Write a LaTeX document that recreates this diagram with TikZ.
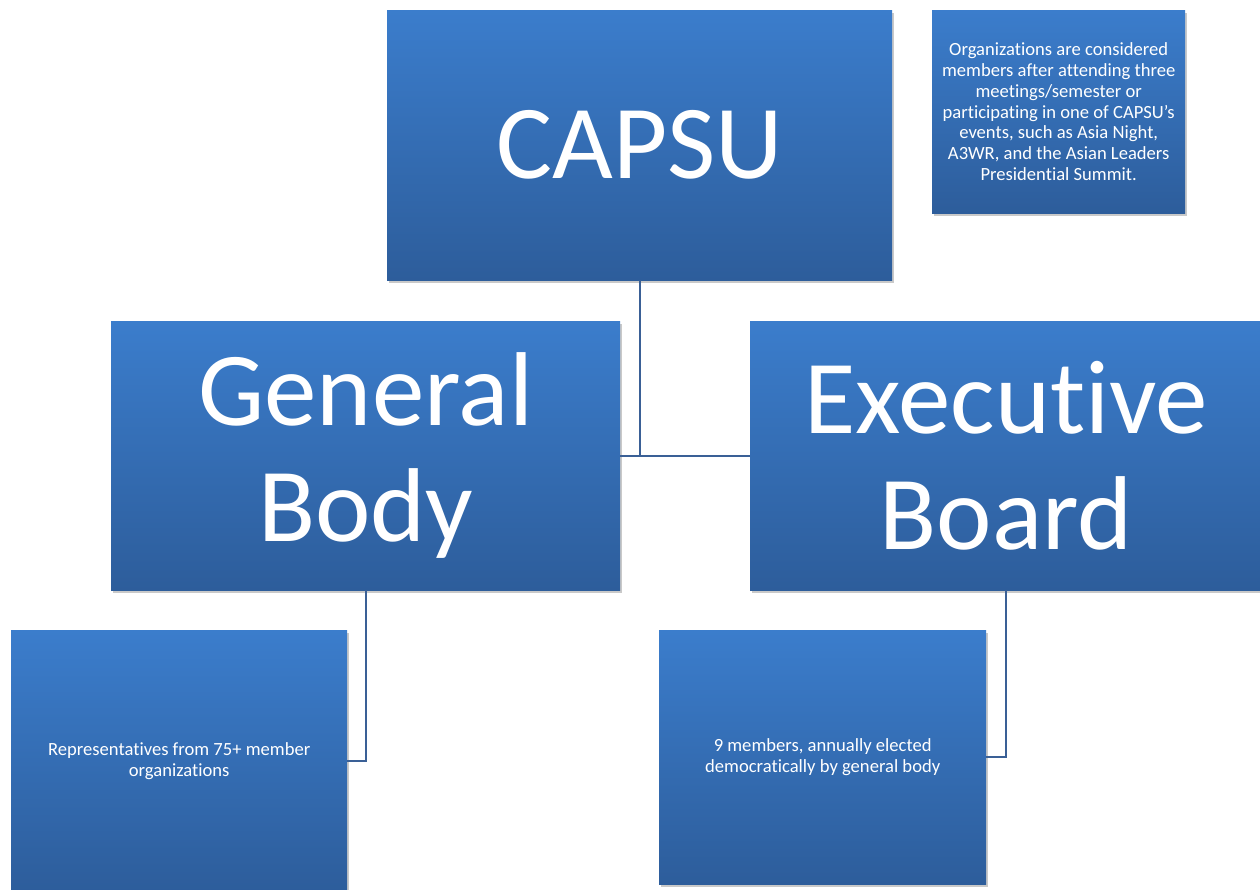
\documentclass[tikz,border=0pt]{standalone}
\usepackage{fontspec}
\setmainfont{Carlito}[Ligatures={NoCommon}]
\usetikzlibrary{shadows,positioning}
\definecolor{boxtop}{HTML}{3B7DCC}
\definecolor{boxbot}{HTML}{2D5D9B}
\definecolor{linkc}{HTML}{3A6096}
\tikzset{
  bluebox/.style={rectangle, draw=none, top color=boxtop, bottom color=boxbot,
    text=white, align=center, inner sep=0pt, anchor=north west,
    drop shadow={shadow xshift=2pt, shadow yshift=-3pt, opacity=0.35, fill=black!60}},
  bigtext/.style={font=\fontsize{105}{116}\selectfont},
  smalltext/.style={font=\fontsize{18.6}{20.8}\selectfont},
  link/.style={draw=linkc, line width=1.6pt}
}
\begin{document}
\begin{tikzpicture}[x=1pt,y=-1pt]
\useasboundingbox (0,0) rectangle (1260,890);
\fill[white] (0,0) rectangle (1260,890);
\node[bluebox, bigtext, minimum width=505pt, minimum height=270pt] (capsu) at (387,10) {CAPSU};
\node[bluebox, smalltext, minimum width=253pt, minimum height=203pt] (note) at (932,10)
  {Organizations are considered\\members after attending three\\meetings/semester or\\participating in one of CAPSU’s\\events, such as Asia Night,\\A3WR, and the Asian Leaders\\Presidential Summit.};
\node[bluebox, bigtext, minimum width=509pt, minimum height=269pt] (gb) at (111,321) {General\\Body};
\node[bluebox, bigtext, minimum width=512pt, minimum height=269pt] (eb) at (750,321) {Executive\\Board};
\node[bluebox, smalltext, minimum width=336pt, minimum height=262pt] (rep) at (11,630)
  {Representatives from 75+ member\\organizations};
\node[bluebox, smalltext, minimum width=327pt, minimum height=254pt] (nine) at (659,630)
  {9 members, annually elected\\democratically by general body};
\draw[link] (capsu.south) |- (gb.east);
\draw[link] (capsu.south) |- (eb.west);
\draw[link] (gb.south) |- (rep.east);
\draw[link] (eb.south) |- (nine.east);
\end{tikzpicture}
\end{document}
